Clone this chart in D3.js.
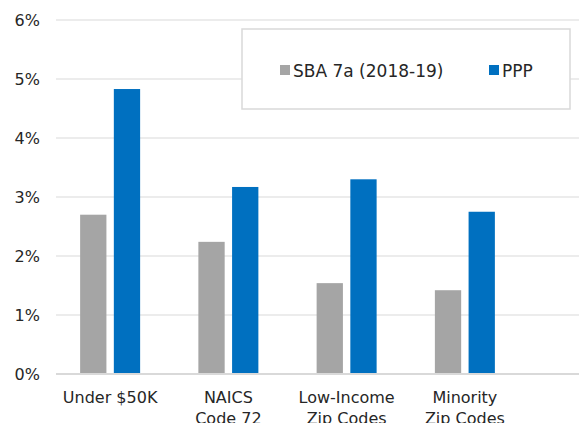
<!DOCTYPE html>
<html>
<head>
<meta charset="utf-8">
<script src="https://cdn.jsdelivr.net/npm/d3@7"></script>
<style>
  body { margin: 0; background: #fff; }
  text { font-family: "DejaVu Sans", sans-serif; fill: #262626; }
</style>
</head>
<body>
<div id="chart"></div>
<script>
var width = 579,
    height = 423;

var categories = [["Under $50K"], ["NAICS", "Code 72"], ["Low-Income", "Zip Codes"], ["Minority", "Zip Codes"]];
var seriesNames = ["SBA 7a (2018-19)", "PPP"];
var sbaValues = [0.027, 0.0224, 0.0154, 0.0142];
var pppValues = [0.0483, 0.0317, 0.0330, 0.0275];
var yTicks = [0, 0.01, 0.02, 0.03, 0.04, 0.05, 0.06];
var colors = ["#a5a5a5", "#0070c0"];

var svg = d3.select("#chart").append("svg")
    .attr("width", width)
    .attr("height", height);

var y = d3.scaleLinear()
    .domain([0, 0.06])
    .range([374, 20]);

var x = d3.scaleBand()
    .domain(d3.range(categories.length))
    .range([51, 524])
    .paddingInner(0)
    .paddingOuter(0);

var x1 = d3.scaleBand()
    .domain([0, 1])
    .range([x.bandwidth() / 2 - 30, x.bandwidth() / 2 + 30])
    .paddingInner(0.22);

// gridlines
svg.append("g")
    .selectAll("line")
    .data(yTicks)
    .enter().append("line")
    .attr("x1", 56)
    .attr("x2", width)
    .attr("y1", function(d) { return y(d); })
    .attr("y2", function(d) { return y(d); })
    .attr("stroke", function(d) { return d === 0 ? "#d9d9d9" : "#ececec"; })
    .attr("stroke-width", 2);

// y axis labels
var yAxis = d3.axisLeft(y)
    .tickValues(yTicks)
    .tickFormat(d3.format(".0%"))
    .tickSize(0)
    .tickPadding(0);

svg.append("g")
    .attr("transform", "translate(40,0)")
    .call(yAxis)
    .call(function(g) { g.select(".domain").remove(); })
    .selectAll("text")
    .style("font-size", "16px")
    .style("font-family", "'DejaVu Sans', sans-serif")
    .attr("fill", "#262626");

// bars
var groups = svg.selectAll(".cat")
    .data(categories)
    .enter().append("g")
    .attr("class", "cat")
    .attr("transform", function(d, i) { return "translate(" + x(i) + ",0)"; });

groups.selectAll("rect")
    .data(function(d, i) { return [sbaValues[i], pppValues[i]]; })
    .enter().append("rect")
    .attr("x", function(d, j) { return x1(j); })
    .attr("width", x1.bandwidth())
    .attr("y", function(d) { return y(d); })
    .attr("height", function(d) { return y(0) - y(d) - 1; })
    .attr("fill", function(d, j) { return colors[j]; });

// x labels
groups.append("text")
    .attr("x", x.bandwidth() / 2)
    .attr("text-anchor", "middle")
    .style("font-size", "16px")
    .selectAll("tspan")
    .data(function(d) { return d; })
    .enter().append("tspan")
    .attr("x", x.bandwidth() / 2)
    .attr("y", function(d, k) { return 403 + k * 21; })
    .text(function(d) { return d; });

// legend
var legend = svg.append("g");
legend.append("rect")
    .attr("x", 242)
    .attr("y", 29)
    .attr("width", 328)
    .attr("height", 80)
    .attr("fill", "#fff")
    .attr("stroke", "#d9d9d9")
    .attr("stroke-width", 1.5);

var legendX = [280, 489];
var items = legend.selectAll(".item")
    .data(seriesNames)
    .enter().append("g")
    .attr("transform", function(d, i) { return "translate(" + legendX[i] + ",70)"; });

items.append("rect")
    .attr("x", 0)
    .attr("y", -5)
    .attr("width", 10)
    .attr("height", 10)
    .attr("fill", function(d, i) { return colors[i]; });

items.append("text")
    .attr("x", 13)
    .attr("y", 7)
    .style("font-size", "17px")
    .text(function(d) { return d; });
</script>
</body>
</html>
